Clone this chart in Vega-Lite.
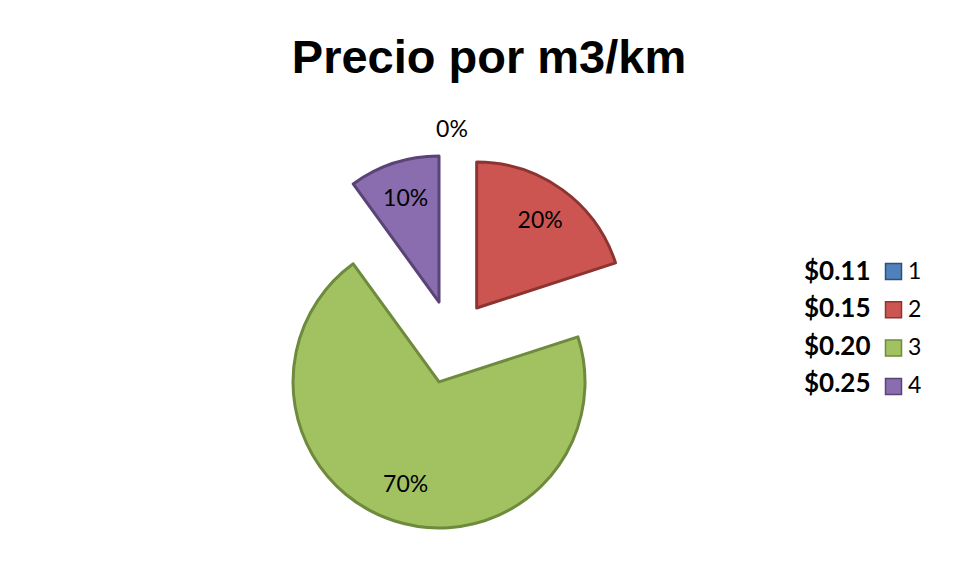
{
  "$schema": "https://vega.github.io/schema/vega-lite/v6.json",
  "width": 872,
  "height": 456,
  "autosize": "none",
  "padding": {"left": 16, "top": 114, "right": 70, "bottom": 7},
  "background": "white",
  "config": {"view": {"stroke": null}},
  "title": {
    "text": "Precio por m3/km",
    "font": "Liberation Sans",
    "fontSize": 47,
    "fontWeight": "bold",
    "color": "black",
    "anchor": "middle",
    "frame": "group",
    "dx": 37,
    "offset": -6,
    "baseline": "alphabetic"
  },
  "data": {
    "values": [
      {"precio": "$0.11", "serie": "1", "valor": 0, "etiqueta": "0%"},
      {"precio": "$0.15", "serie": "2", "valor": 20, "etiqueta": "20%"},
      {"precio": "$0.20", "serie": "3", "valor": 70, "etiqueta": "70%"},
      {"precio": "$0.25", "serie": "4", "valor": 10, "etiqueta": "10%"}
    ]
  },
  "encoding": {
    "theta": {"field": "valor", "type": "quantitative", "stack": true},
    "order": {"field": "serie", "type": "ordinal", "sort": "ascending"}
  },
  "layer": [
    {
      "transform": [{"filter": "datum.valor > 0"}],
      "mark": {
        "type": "arc",
        "outerRadius": 146,
        "x": {"expr": "width/2 + 42*sin((scale('theta', datum.valor_start) + scale('theta', datum.valor_end))/2)"},
        "y": {"expr": "height/2 - 42*cos((scale('theta', datum.valor_start) + scale('theta', datum.valor_end))/2)"},
        "strokeWidth": 3,
        "strokeJoin": "round"
      },
      "encoding": {
        "color": {
          "field": "serie",
          "type": "nominal",
          "scale": {"domain": ["1", "2", "3", "4"], "range": ["#4F81BD", "#CD5551", "#A2C262", "#8A6DAE"]},
          "legend": {
            "orient": "none",
            "legendX": 866,
            "legendY": 146,
            "title": null,
            "symbolType": "square",
            "symbolSize": 256,
            "symbolStrokeColor": "rgba(0,0,0,0.35)",
            "symbolStrokeWidth": 1.5,
            "labelFont": "Lato",
            "labelFontSize": 23,
            "labelColor": "black",
            "labelOffset": 3,
            "rowPadding": 14.3
          }
        },
        "stroke": {
          "field": "serie",
          "type": "nominal",
          "scale": {"domain": ["1", "2", "3", "4"], "range": ["#2F4F7A", "#8C3431", "#6E8A3C", "#5A4477"]},
          "legend": null
        }
      }
    },
    {
      "mark": {
        "type": "text",
        "radius": {"expr": "datum.valor == 0 ? 170 : 108"},
        "x": {"expr": "width/2 + 42*sin((scale('theta', datum.valor_start) + scale('theta', datum.valor_end))/2)"},
        "y": {"expr": "height/2 - 42*cos((scale('theta', datum.valor_start) + scale('theta', datum.valor_end))/2)"},
        "font": "Lato",
        "fontSize": 23,
        "color": "black"
      },
      "encoding": {
        "text": {"field": "etiqueta", "type": "nominal"},
        "opacity": {
          "field": "precio",
          "type": "ordinal",
          "scale": {"range": [1, 1, 1, 1]},
          "legend": {
            "orient": "none",
            "legendX": 762,
            "legendY": 145,
            "title": null,
            "symbolSize": 0,
            "symbolStrokeWidth": 0,
            "symbolOpacity": 0,
            "labelOffset": 0,
            "labelFont": "Lato",
            "labelFontSize": 26,
            "labelFontWeight": "bold",
            "labelColor": "black",
            "rowPadding": 11.3
          }
        }
      }
    }
  ]
}
